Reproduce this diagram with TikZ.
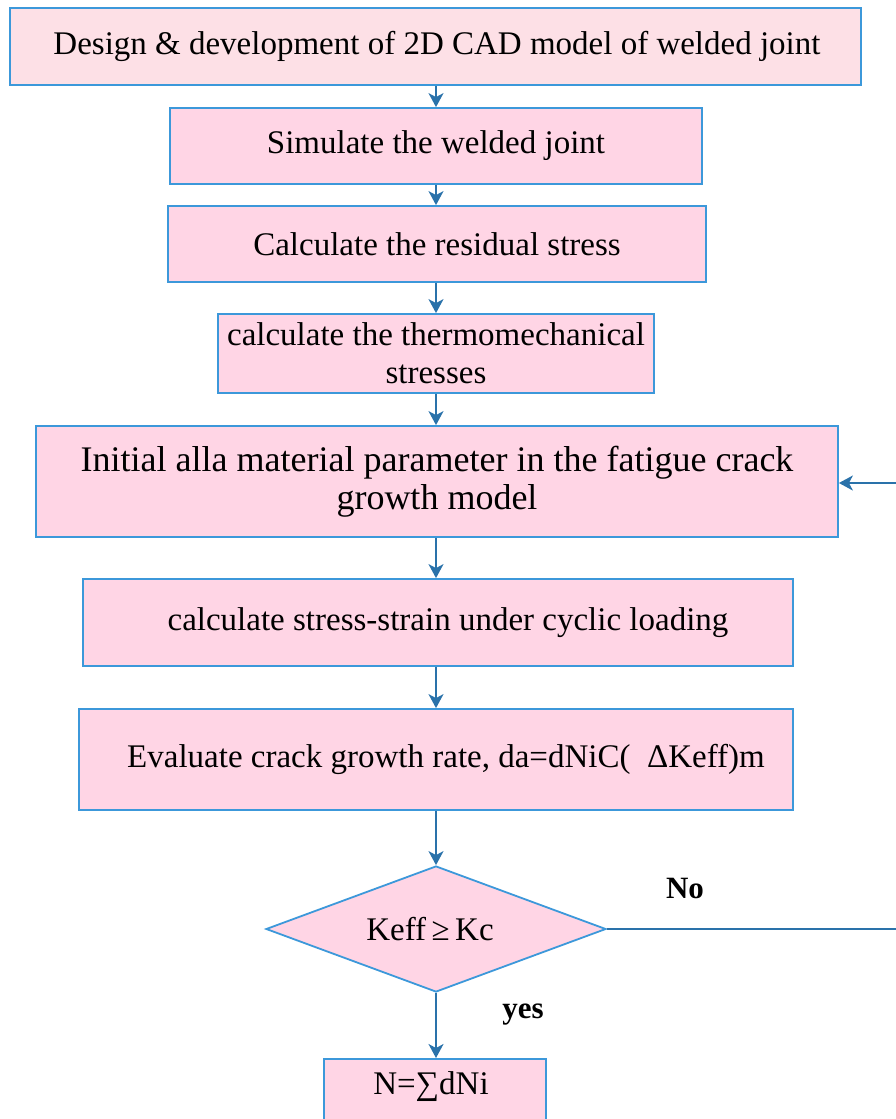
\documentclass[tikz,border=0pt]{standalone}
\usepackage{fontspec}
\setmainfont{Liberation Serif}
\usetikzlibrary{shapes.geometric,arrows.meta}
\definecolor{boxblue}{HTML}{3C98DA}
\definecolor{arrowblue}{HTML}{2A72AA}
\definecolor{boxpink}{HTML}{FFD5E5}
\definecolor{toppink}{HTML}{FDE0E6}
\tikzset{
  stepbox/.style={draw=boxblue, line width=1.8pt, fill=boxpink, rectangle, inner sep=0pt, align=center,
    font=\fontsize{33}{38}\selectfont},
  decbox/.style={draw=boxblue, line width=1.8pt, fill=boxpink, diamond, aspect=2.714, inner sep=0pt,
    font=\fontsize{33}{38}\selectfont},
  flow/.style={draw=arrowblue, line width=1.8pt, -{Stealth[length=14pt,width=15pt,inset=4pt]}},
  plainline/.style={draw=arrowblue, line width=1.8pt},
  lbl/.style={font=\fontsize{31}{36}\selectfont\bfseries, inner sep=0pt}
}
\begin{document}
\begin{tikzpicture}[x=1pt,y=1pt]
\useasboundingbox (0,0) rectangle (896,-1119);
\node[stepbox, fill=toppink, minimum width=851pt, minimum height=77pt] (b1) at (435.5,-46.5) {\raisebox{-2pt}{\hspace*{3pt}Design \& development of 2D CAD model of welded joint}};
\node[stepbox, minimum width=532pt, minimum height=76pt] (b2) at (436,-146) {\raisebox{-2pt}{Simulate the welded joint}};
\node[stepbox, minimum width=538pt, minimum height=76pt] (b3) at (437,-244) {Calculate the residual stress};
\node[stepbox, minimum width=436pt, minimum height=79pt] (b4) at (436,-353.5) {calculate the thermomechanical\\stresses};
\node[stepbox, minimum width=802pt, minimum height=111pt, font=\fontsize{36}{38}\selectfont] (b5) at (437,-481.5) {Initial alla material parameter in the fatigue crack\\growth model};
\node[stepbox, minimum width=710pt, minimum height=87pt] (b6) at (438,-622.5) {\raisebox{-2pt}{\hspace*{20pt}calculate stress-strain under cyclic loading}};
\node[stepbox, minimum width=714pt, minimum height=101pt] (b7) at (436,-759.5) {\raisebox{-2pt}{\hspace*{20pt}Evaluate crack growth rate, da=dNiC(\hspace{0.5em}ΔKeff)m}};
\node[decbox, minimum width=340pt, minimum height=126pt] (d) at (436,-929) {};
\node[font=\fontsize{33}{38}\selectfont, inner sep=0pt] (dt) at (430,-929) {Keff\,≥\,Kc};
\node[stepbox, minimum width=222pt, minimum height=70pt, anchor=north] (b9) at (435,-1058) {};
\node[font=\fontsize{33}{38}\selectfont, inner sep=0pt] (b9t) at (431,-1087) {N=∑dNi};
\node[lbl] (no) at (685,-888) {No};
\node[lbl] (yes) at (523,-1015) {yes};
\coordinate (lc1) at (905,-929);
\coordinate (lc2) at (905,-483);
\draw[flow] (b1.south -| 436,0) -- (b2.north -| 436,0);
\draw[flow] (b2.south -| 436,0) -- (b3.north -| 436,0);
\draw[flow] (b3.south -| 436,0) -- (b4.north -| 436,0);
\draw[flow] (b4.south -| 436,0) -- (b5.north -| 436,0);
\draw[flow] (b5.south -| 436,0) -- (b6.north -| 436,0);
\draw[flow] (b6.south -| 436,0) -- (b7.north -| 436,0);
\draw[flow] (b7.south -| 436,0) -- (d.north);
\draw[flow] (d.south) -- (b9.north -| d.south);
\draw[plainline] (d.east) -- (lc1) -- (lc2);
\draw[flow] (lc2) -- (b5.east |- lc2);
\end{tikzpicture}
\end{document}
